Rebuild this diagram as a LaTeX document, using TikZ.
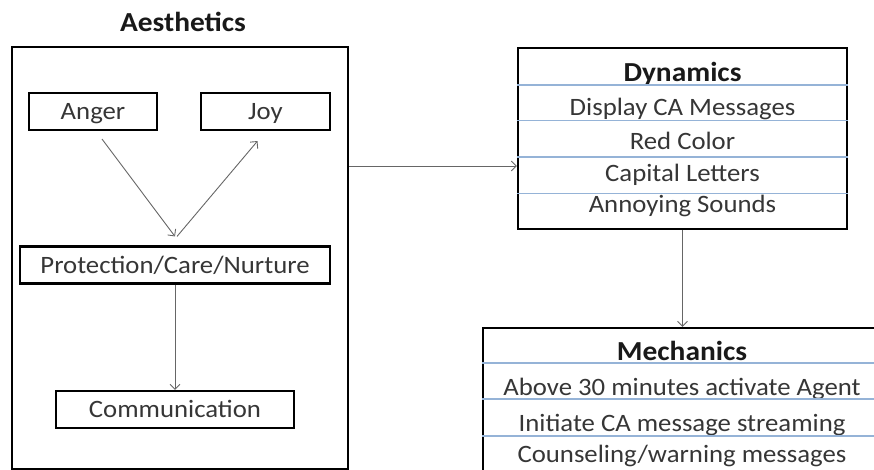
\documentclass[tikz,border=0pt]{standalone}
\usepackage{fontspec}
\setmainfont[FakeStretch=1.07]{Carlito}
\usetikzlibrary{arrows.meta}

\definecolor{txtgray}{HTML}{363636}
\definecolor{rowblue}{HTML}{95B3D7}

\tikzset{
  panel/.style={draw, line width=2.1pt, inner sep=0pt},
  box/.style={panel, minimum height=37pt, text=txtgray,
    font=\fontsize{25}{25}\selectfont, text height=16pt, text depth=0pt},
  rowtext/.style={inner sep=0pt, text=txtgray,
    font=\fontsize{25}{25}\selectfont, text height=16pt, text depth=0pt},
  heading/.style={inner sep=0pt, text=black!90,
    font=\bfseries\fontsize{27.5}{27.5}\selectfont, text height=17pt, text depth=0pt},
  arr/.style={draw=black!60, line width=0.9pt, -{Straight Barb[length=5pt,width=10pt]}},
  sep/.style={draw=rowblue, line width=1.1pt}
}

\begin{document}
\begin{tikzpicture}[x=1pt,y=-1pt]
\useasboundingbox (0,0) rectangle (874,470);
\clip (0,0) rectangle (874,470);

% aesthetics
\node[heading] (aestitle) at (183,23) {Aesthetics};
\node[panel, minimum width=336pt, minimum height=422pt] (aes) at (180,258) {};
\node[box, minimum width=128pt] (anger) at (93,111.5) {Anger};
\node[box, minimum width=129pt] (joy) at (265.5,111.5) {Joy};
\node[box, minimum width=310pt] (prot) at (175,265) {Protection/Care/Nurture};
\node[box, minimum width=238pt] (comm) at (175,409.5) {Communication};

\draw[arr] ([xshift=9pt,yshift=-8pt]anger.south) -- ([yshift=9pt]prot.north);
\draw[arr] ([xshift=2pt,yshift=9pt]prot.north) -- ([xshift=-8pt,yshift=-10pt]joy.south);
\draw[arr] (prot.south) -- (prot.south |- comm.north);

% dynamics
\node[panel, minimum width=329pt, minimum height=181pt] (dyn) at (682.5,138.5) {};
\node[heading] (dyntitle) at (682.5,73) {Dynamics};
\foreach \txt/\ty [count=\i] in {Display CA Messages/107.5, Red Color/142,
    Capital Letters/174, Annoying Sounds/205}
  \node[rowtext] (dyn\i) at (682.5,\ty) {\txt};
\foreach \ly [count=\i] in {85,120.5,157,193.5} {
  \coordinate (dl\i) at (0,\ly);
  \draw[sep] (dyn.west |- dl\i) -- (dyn.east |- dl\i);
}

% mechanics
\node[panel, minimum width=398pt, minimum height=146pt] (mech) at (682,401) {};
\node[heading] (mechtitle) at (682,352) {Mechanics};
\foreach \txt/\ty [count=\i] in {Above 30 minutes activate Agent/387,
    Initiate CA message streaming/423, {Counseling/warning messages}/454}
  \node[rowtext] (mech\i) at (682,\ty) {\txt};
\foreach \ly [count=\i] in {363,399,436} {
  \coordinate (ml\i) at (0,\ly);
  \draw[sep] (mech.west |- ml\i) -- (mech.east |- ml\i);
}

% links
\coordinate (link) at (0,166);
\draw[arr] (aes.east |- link) -- (dyn.west |- link);
\draw[arr] (dyn.south) -- (dyn.south |- mech.north);
\end{tikzpicture}
\end{document}
